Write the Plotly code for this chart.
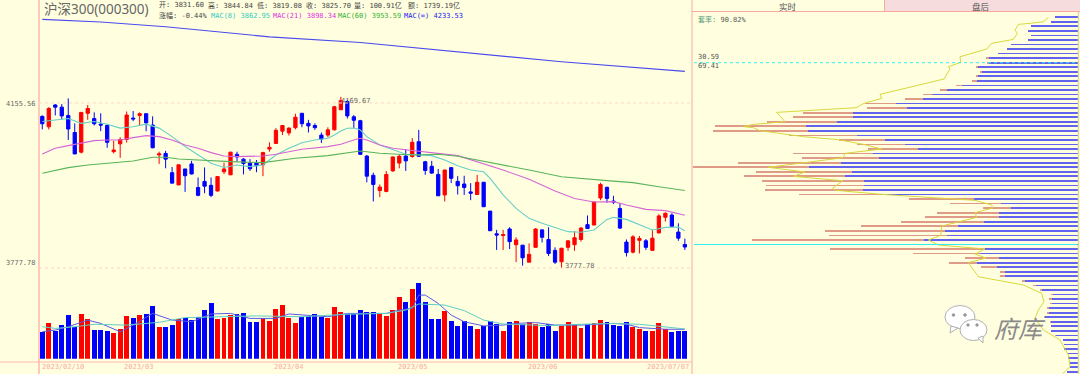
import plotly.graph_objects as go

# ---- price bars: index 0..99 ----
opens = [4125,4101,4151,4146,4127,4088,4043,4132,4120,4107,4104,4044,4062,4072,4121,4127,4131,4105,4036.5,4040,
         3996,3968,4004.5,4016,3962,3976,3967,3954,3998,3991,4038,4027,4018,4018,4014,4050,4063,4091,4087,4099,
         4132,4109,4104,4082,4082,4094,4140,4159,4124,4115,4034,3990,3955,3953,4000,4018,4034,4033,4067,4021,
         4010.5,3992,3945,4007.5,3976,3970,3952,3946,3974,3908,3856,3852,3867,3831,3830,3791,3825,3865,3843,3818,
         3792,3825,3831,3843,3877,3876,3938,3962.4,3931,3914,3837,3814,3841,3840,3818,3858,3894,3899,3860,3831.6]
highs = [4127,4146,4153,4153,4166,4109,4134,4151,4134,4132,4107,4069,4077,4136,4137,4134,4132,4125,4044,4046,
         4009,4014,4004.5,4023,3985,4008,3985,3987,4019,4043,4044,4029,4027,4025,4044,4065.5,4098,4105,4100,4131,
         4132,4117,4109,4088,4100,4149,4169.67,4163,4128,4117,4036.5,3996,3969,3999.8,4033,4038,4049.5,4075,4094,4023,
         4023,4004.5,4003,4009,3988,3989,3972,3991,3975,3908,3865,3865,3871,3848,3830,3834,3869,3865,3871,3825,
         3823,3840,3862,3872,3898,3930,3973,3964,3943,3926,3843,3853,3851,3844,3865,3901,3905,3903,3880,3844.84]
lows = [4095,4095,4127,4118,4071,4038,4040,4117,4104,4091,4053,4040,4030,4065,4114,4104,4091,4052,4016,4006,
        3972,3967,3952,3992,3942,3949,3940,3953,3993,3991,4021,3992,4000,3997,3988,4044,4062,4082,4081,4095,
        4100,4088,4094,4064,4077,4093,4140,4120,4098,4036.5,3974,3930,3940,3951,3998,4006,4000,4030,4032,3991,
        3993,3943,3930,3972,3946,3945,3933,3945,3918,3863,3819,3819,3821,3791,3783,3791,3825,3836,3805,3787,
        3777.78,3817,3817,3838,3867,3876,3933,3927,3924,3867,3804,3811,3811,3819,3817,3857,3884,3871,3840,3819.08]
closes = [4108,4143,4146,4126,4096,4039,4134,4143,4108,4105,4065.5,4048,4072,4128,4119,4131,4110,4053,4039,4027,
          3972,4014,3989,3993,3944,3965,3944,3987,4004.5,4043,4032,4017,4005,4012,4042,4054,4093,4104,4098,4123,
          4108,4103,4099,4073,4094,4147,4161,4126,4116,4038,3988,3969,3963,3992,4032,4033.5,4023,4065.5,4033.5,4001,
          3995,3943,4002,3983,3966,3962,3949,3974,3918,3863,3853,3854,3838,3842,3801,3809,3867,3848,3811,3791,
          3823,3840,3847,3869,3868,3929,3969,3937,3929,3869,3813,3849,3845,3825,3846,3897,3903,3873,3846,3825.70]
volumes = [97,127,101,120,157,115,160,142,103,103,101,94,108,154,145,157,160,191,115,115,
           122,142,148,139,150,174,200,144,146,157,160,163,131,133,145,137,179,193,148,127,
           149,154,162,151,148,186,167,161,160,175,167,169,160,154,175,223,203,250,271,203,
           143,143,173,136,118,137,118,108,118,134,124,100,131,134,125,132,124,115,124,100,
           118,132,125,112,124,127,138,132,122,118,132,115,106,100,101,130,107,96,98,100.91]

# ---- moving averages, read at the listed bar indices ----
mac8_idx = [0,2,4,6,8,10,12,14,16,18,20,22,24,26,28,30,32,34,35,36,38,40,42,44,45,46,47,48,49,50,52,54,56,58,60,62,64,
            66,68,69,71,73,75,77,79,81,83,85,87,88,90,92,94,96,98,99]
mac8 = [4113,4117,4120,4109,4113,4107,4098,4101,4107,4098,4078.5,4056,4036.5,4017.4,4008,4013.6,4009.8,4013.6,4025,4036.5,4051.8,4064.7,4070.9,4074.7,4082.3,4091.5,4097.6,4098.3,4093.7,4078.5,4059.4,4048,4038,4036.5,4035,4025,4012,
        4002,3998,3983,3945,3914.3,3891.4,3880,3870.8,3860.9,3859.4,3864.7,3889,3893.7,3889,3876,3864.7,3870.8,3871.6,3862.95]
mac21_idx = [0,2,4,6,8,10,12,14,16,18,20,22,24,26,28,30,34,36,38,40,44,46,48,49,50,52,54,58,62,64,71,75,79,82,85,88,90,93,96,99]
mac21 = [4038.8,4051.8,4057.9,4063.2,4069.3,4070.9,4070.9,4076.2,4080.8,4078.5,4070.9,4059.4,4051.8,4041.9,4034.2,4032.7,4034.2,4038,4044.1,4049.5,4055.6,4060.9,4070.9,4074.7,4070.9,4059.4,4051.8,4045.7,4038,4035,4002,3980.7,3954,3937,3928.8,3929.6,3922,3912,3909,3898.34]
mac60_idx = [0,4,7,11,14,17,19,21,24,27,29,34,39,44,49,52,57,61,64,75,80,87,91,95,99]
mac60 = [3994.5,4007.5,4013.6,4019,4022.8,4031.2,4031.2,4027.3,4025,4021.2,4021.2,4018.9,4028.9,4035,4045.7,4040.3,4036.5,4038,4033.5,4002,3986.8,3977.7,3973.1,3963.9,3955]
macinf_idx = [0,9,19,35,49,64,80,99]
macinf = [4347,4341,4330,4307,4294,4273,4250,4228]

vol_ma1_idx = [0,2,4,7,9,12,14,17,20,23,26,29,32,36,38,42,44,47,50,53,55,57,58,59,61,63,65,68,71,73,76,79,83,88,90,92,96,99]
vol_ma1 = [97,103,115,139,127,97,121,163,139,133,161,163,145,145,161,154,151,163,163,163,175,181,229,229,199,157,133,118,121,127,130,121,121,127,124,112,106,106]
vol_ma2_idx = [0,2,5,8,13,18,22,26,33,40,47,53,56,58,62,65,68,71,78,83,88,92,96,99]
vol_ma2 = [115,109,115,124,121,131,148,151,154,151,160,163,175,197,193,173,139,125,119,124,127,124,113,107]

# ---- chip distribution, one row per price level ----
chip_price = [4352.0,4341.6,4331.2,4320.8,4310.4,4299.9,4289.5,4279.1,4268.7,4258.3,4247.9,4237.5,4227.1,4216.7,4206.3,4195.9,4185.4,4175.0,4164.6,4154.2,
              4143.8,4133.4,4123.0,4112.6,4102.2,4091.8,4081.3,4070.9,4060.5,4050.1,4039.7,4029.3,4018.9,4008.5,3998.1,3987.7,3977.2,3966.8,3956.4,3946.0,
              3935.6,3925.2,3914.8,3904.4,3894.0,3883.6,3873.1,3862.7,3852.3,3841.9,3831.5,3821.1,3810.7,3800.3,3789.9,3779.5,3769.0,3758.6,3748.2,3737.8,
              3727.4,3717.0,3706.6,3696.2,3685.8,3675.4,3664.9,3654.5,3644.1,3633.7,3623.3,3612.9,3602.5,3592.1,3581.7,3571.3,3560.8,3550.4,3540.0]
chip_profit = [22.7,26.7,46.7,49.3,47,49.3,66.7,71,79.3,88.7,89.3,100.3,95.3,99.3,100.3,116,130.3,146,155,182,
               170.3,225,225,241,271.7,270,221,192.7,172.7,160,204.3,198.3,236.7,268.7,225.3,232.7,213.3,213.3,215,196.7,
               103.3,77,66.7,78.7,78.7,93.3,120,132.7,131,153.3,146,92.7,97.7,78.7,101,81,72.3,72.3,53,41.7,
               35.7,25,26,26,29.3,29.3,32.7,26.7,26.7,26.7,21.7,15,13.7,13.7,9.3,9.3,7.7,7.7,11]
chip_loss = [0,0,0,0,0,0,0,0,0,3,1.7,1.7,2.3,2.7,5,5.7,7.3,8.3,17.7,30.7,
             40.7,49.3,60,69.3,91,94.3,67.3,46,48.3,49.3,80,77.7,103.3,115.7,96.7,101,102,98.3,97.7,81.7,
             65.3,50.7,28.3,62.3,74,83.7,96.3,120,117.3,172.3,153.3,155,67.3,34,28,15.7,5.3,5.3,2.7,2.7,
             2,1,2.3,1.7,1,1.7,1,1,0,0,1,0,0,0,0,0,0,0,0]
curve_val = [29.3,34.3,47.7,59.3,62.7,60.3,64.3,86,91,117.7,117,129.3,127.7,133.7,197.7,196,213.7,221.7,301,292.7,324.3,
             334.3,324.3,317.7,274.3,239.3,214.3,196,232.7,234.3,309.3,272.7,284.3,235,245,242,196,127.7,102.7,86,85,102.7,101,119.3,136,137,149.3,139.3,92.7,
             102.7,91.7,109.3,99.3,54.3,36,33.7,39.3,42.7,34.3,17.7,9.3,7.7,15.3]
curve_price = [4351.7,4341.8,4338,4335.7,4322.7,4315.1,4301.3,4292.2,4279.2,4261.6,4248.7,4238.7,4233.4,4210.5,4175.4,4166.2,4154.8,4144.8,4134.2,4112.8,4106.7,
               4101.4,4099.1,4092.2,4078.5,4071.6,4060.9,4050.2,4040.3,4030.4,4008.3,3997.6,3987.6,3977.7,3960.2,3955.6,3946.4,3937.3,3932.7,3922,3915.1,3904.4,3893.8,3883.1,3873.9,3852.5,3841.9,3830.4,3821.2,
               3809.7,3800.6,3789.9,3757.8,3738.8,3719.7,3700.6,3681.5,3662.4,3635.7,3612.8,3578.5,3551.7,3534.9]

tick_idx = [-0.4,12.3,35.4,54.5,74.5,99.9]
tick_text = ["2023/02/10","2023/03","2023/04","2023/05","2023/06","2023/07/07"]

RED, BLUE = "#ff0000", "#0000ff"
BG = "#ffffe0"
PINK = "#fbb4a8"
C8, C21, C60, CINF = "#66cfc6", "#d565d5", "#5ab45a", "#4a4aee"
MONO = "DejaVu Sans Mono, Noto Sans CJK SC"
CJK = "Noto Sans CJK SC"
W, H = 1080, 374


def px(v):
    return v / W


def py(v):
    return 1 - v / H


fig = go.Figure()
fig.add_trace(go.Candlestick(x=list(range(100)), open=opens, high=highs, low=lows, close=closes,
                             increasing=dict(line=dict(color=RED, width=1), fillcolor=RED),
                             decreasing=dict(line=dict(color=BLUE, width=1), fillcolor=BLUE),
                             whiskerwidth=0, hoverinfo="skip", xaxis="x", yaxis="y"))
for idx, vals, col in [(mac8_idx, mac8, C8), (mac21_idx, mac21, C21), (mac60_idx, mac60, C60), (macinf_idx, macinf, CINF)]:
    fig.add_trace(go.Scatter(x=idx, y=vals, mode="lines", line=dict(color=col, width=1.1), hoverinfo="skip", xaxis="x", yaxis="y"))

vol_colors = [RED if c >= o else BLUE for o, c in zip(opens, closes)]
fig.add_trace(go.Bar(x=list(range(100)), y=volumes, marker=dict(color=vol_colors, line=dict(width=0)), width=0.76, hoverinfo="skip", xaxis="x", yaxis="y2"))
fig.add_trace(go.Scatter(x=vol_ma1_idx, y=vol_ma1, mode="lines", line=dict(color="#5a5ae8", width=1), hoverinfo="skip", xaxis="x", yaxis="y2"))
fig.add_trace(go.Scatter(x=vol_ma2_idx, y=vol_ma2, mode="lines", line=dict(color="#5fcfc0", width=1), hoverinfo="skip", xaxis="x", yaxis="y2"))

fig.add_trace(go.Bar(y=chip_price, x=chip_profit, orientation="h", width=1.7, marker=dict(color="#6262f0", line=dict(width=0)), hoverinfo="skip", xaxis="x3", yaxis="y3"))
fig.add_trace(go.Bar(y=chip_price, x=chip_loss, orientation="h", width=1.7, marker=dict(color="#e09a88", line=dict(width=0)), hoverinfo="skip", xaxis="x3", yaxis="y3"))
fig.add_trace(go.Scatter(x=curve_val, y=curve_price, mode="lines", line=dict(color="#d8d83c", width=1), hoverinfo="skip", xaxis="x3", yaxis="y3"))

anns = []


def text(x, y, s, size=7, color="#444444", family=MONO, anchor="left"):
    anns.append(dict(x=px(x), y=py(y), xref="paper", yref="paper", text=s, showarrow=False,
                     xanchor=anchor, yanchor="middle", align="left", borderpad=0,
                     font=dict(size=size, color=color, family=family)))


text(43, 9.5, "沪深300(000300)", size=13.5, color="#666666", family="Noto Sans, " + CJK)
for x, s in [(158, "开: 3831.60"), (207, "高: 3844.84"), (256, "低: 3819.08"), (305, "收: 3825.70"), (353, "量: 100.91亿"), (407, "额: 1739.19亿")]:
    text(x, 5.5, s)
text(158, 15.5, "涨幅: -0.44%")
text(210, 15.5, "MAC(8) 3862.95", color="#30c8c0")
text(272, 15.5, "MAC(21) 3898.34", color="#e030e0")
text(337, 15.5, "MAC(60) 3953.59", color="#30b030")
text(403, 15.5, "MAC(∞) 4233.53", color="#2020f0")
text(37, 103.5, "4155.56", color="#666666", anchor="right")
text(37, 263, "3777.78", color="#666666", anchor="right")
text(340, 101, "4169.67", color="#666666")
text(564, 266, "3777.78", color="#666666")
text(788, 6.5, "实时", size=8.5, color="#555555", family=CJK, anchor="center")
text(981, 6.5, "盘后", size=8.5, color="#555555", family=CJK, anchor="center")
text(697, 20, "<span style='color:#5a9a7a'>套率:</span> 90.82%", color="#555555")
text(697, 57, "30.59", color="#555555")
text(697, 66.5, "69.41", color="#555555")
text(993, 327, "<i>府库</i>", size=24, color="#8a8a8a", family=CJK)

for i, s in zip(tick_idx, tick_text):
    anns.append(dict(x=i, y=py(367), xref="x", yref="paper", text=s, showarrow=False,
                     xanchor="right" if s.endswith("07/07") else "left", yanchor="middle",
                     font=dict(size=7, color="#f8aaa0", family=MONO)))


def vline(x, y0, y1, w=1, col=PINK):
    return dict(type="line", xref="paper", yref="paper", x0=px(x), x1=px(x), y0=py(y0), y1=py(y1), line=dict(color=col, width=w))


def hline(x0, x1, y, w=1, col=PINK):
    return dict(type="line", xref="paper", yref="paper", x0=px(x0), x1=px(x1), y0=py(y), y1=py(y), line=dict(color=col, width=w))


def ell(cx, cy, rx, ry, fill="#ffffff", line="#b0b0b0"):
    return dict(type="circle", xref="paper", yref="paper", x0=px(cx - rx), x1=px(cx + rx), y0=py(cy + ry), y1=py(cy - ry),
                fillcolor=fill, line=dict(color=line, width=1))


shapes = [
    dict(type="rect", xref="paper", yref="paper", x0=px(885), x1=px(1080), y0=py(0), y1=py(11.5), fillcolor="#f6dcdc", line=dict(width=0)),
    vline(39, 0, 374, 2, "#ffc8bc"),
    vline(692, 0, 374, 1, "#f8a8a0"),
    vline(884.5, 0, 11.5, 1, "#f8a8a0"),
    hline(692, 1080, 11.5, 1, "#f8a8a0"),
    hline(0, 692, 362, 1, "#fbb8ae"),
    vline(1078.5, 12, 374, 1.5, "#d8d8a0"),
    dict(type="line", xref="paper", yref="y", x0=px(39), x1=px(692), y0=4155.56, y1=4155.56, line=dict(color="#ffd4c4", width=1, dash="dot")),
    dict(type="line", xref="paper", yref="y", x0=px(39), x1=px(692), y0=3777.78, y1=3777.78, line=dict(color="#ffd4c4", width=1, dash="dot")),
    dict(type="line", xref="paper", yref="y3", x0=px(694), x1=px(1077), y0=4247.9, y1=4247.9, line=dict(color="#30f0f0", width=1, dash="dot")),
    dict(type="line", xref="paper", yref="y3", x0=px(694), x1=px(1077), y0=3831.5, y1=3831.5, line=dict(color="#30f0f0", width=1)),
    ell(960, 317, 15, 11.5),
    dict(type="path", xref="paper", yref="paper", path=f"M {px(951)} {py(326)} L {px(950)} {py(333)} L {px(958)} {py(328)} Z", fillcolor="#ffffff", line=dict(color="#b0b0b0", width=1)),
    ell(973.5, 330, 13.5, 10.5),
    dict(type="path", xref="paper", yref="paper", path=f"M {px(978)} {py(338)} L {px(983)} {py(343)} L {px(983)} {py(336)} Z", fillcolor="#ffffff", line=dict(color="#b0b0b0", width=1)),
    ell(953.5, 315, 1.3, 1.3, "#999999", "#999999"),
    ell(965, 315, 1.3, 1.3, "#999999", "#999999"),
    ell(968, 325, 1.2, 1.2, "#999999", "#999999"),
    ell(977, 325, 1.2, 1.2, "#999999", "#999999"),
]

fig.update_layout(
    width=W, height=H, autosize=False, margin=dict(l=0, r=0, t=0, b=0, pad=0),
    paper_bgcolor=BG, plot_bgcolor=BG, showlegend=False, barmode="stack", boxgap=0.28,
    xaxis=dict(domain=[px(39.5), px(692)], range=[-0.43, 100.1], visible=False, rangeslider=dict(visible=False), anchor="y"),
    yaxis=dict(domain=[py(290), 1], range=[3727.3, 4391.4], visible=False, anchor="x"),
    yaxis2=dict(domain=[py(358.7), py(280)], range=[0, 283.3], visible=False, anchor="x"),
    xaxis3=dict(domain=[px(692), 1], range=[385.7, -2.3], visible=False, anchor="y3"),
    yaxis3=dict(domain=[0, py(12)], range=[3535, 4364], visible=False, anchor="x3"),
    annotations=anns, shapes=shapes,
)
fig.write_html("out.html", config=dict(displayModeBar=False), post_script="document.body.style.margin='0';")
